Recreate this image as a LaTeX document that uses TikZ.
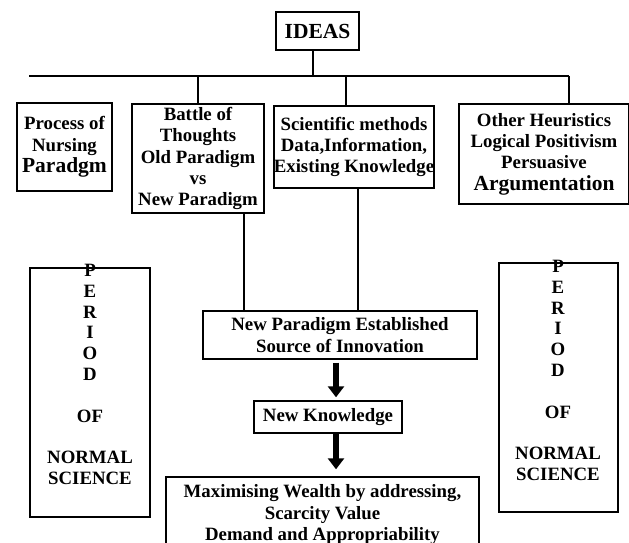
\documentclass[tikz,border=0pt]{standalone}
\usepackage{fontspec}
\setmainfont{Liberation Serif}
\usetikzlibrary{positioning, arrows.meta}

\newcommand{\bigword}[1]{{\fontsize{21.5}{24}\selectfont #1}}

\tikzset{
x=1pt, y=-1pt, % work in page units, y grows downwards
box/.style={draw, line width=1.4pt, align=center, inner sep=0pt,
  font=\fontsize{18.8}{21.3}\selectfont\bfseries}, % every framed box
link/.style={line width=1.3pt}, % plain connectors
fat/.style={line width=6pt, -{Triangle[width=16pt,length=11pt]}}, % the thick down arrows
period/.style={align=center, inner sep=0pt,
  font=\fontsize{18.8}{20.8}\selectfont\bfseries}, % spelled out side text
}

\begin{document}
\begin{tikzpicture}
\useasboundingbox (0,0) rectangle (629,543);

% top of the tree
\node[box, minimum width=83, minimum height=38] (ideas) at (317.5,31) {\bigword{IDEAS}};
\coordinate (busL) at (29,76);
\coordinate (busR) at (569,76);
\coordinate (bIdeas) at (313,76);
\coordinate (bBattle) at (198,76);
\coordinate (bSci) at (346,76);

% the four kinds of ideas
\node[box, minimum width=95, minimum height=88] (process) at (64.5,147)
  {Process of\\Nursing\\\bigword{Paradgm}};
\node[box, minimum width=132, minimum height=109] (battle) at (198,158.5)
  {Battle of\\Thoughts\\Old Paradigm\\vs\\New Paradigm};
\node[box, minimum width=156, minimum height=82] (sci) at (354,147)
  {Scientific methods\\Data,Information,\\Existing Knowledge};
\node[box, minimum width=170, minimum height=100] (other) at (544,154)
  {Other Heuristics\\Logical Positivism\\Persuasive\\\bigword{Argumentation}};

% the main chain
\node[box, minimum width=274, minimum height=48] (newpar) at (340,335)
  {New Paradigm Established\\Source of Innovation};
\node[box, minimum width=148, minimum height=32] (newknow) at (328,417) {New Knowledge};
\node[box, minimum width=313, minimum height=75] (wealth) at (322.5,514.5)
  {Maximising Wealth by addressing,\\Scarcity Value\\Demand and Appropriability};

% side frames
\node[box, minimum width=120, minimum height=249] (lperiod) at (90,392.5) {};
\node[period, anchor=north] (ltext) at (90,264)
  {P\\E\\R\\I\\O\\D\\[20.8pt]OF\\[20.8pt]NORMAL\\SCIENCE};
\node[box, minimum width=119, minimum height=249] (rperiod) at (558.5,387.5) {};
\node[period, anchor=north] (rtext) at (558,260)
  {P\\E\\R\\I\\O\\D\\[20.8pt]OF\\[20.8pt]NORMAL\\SCIENCE};

% connectors
\draw[link] (busL) -- (busR);
\draw[link] (bIdeas |- ideas.south) -- (bIdeas);
\draw[link] (bBattle) -- (bBattle |- battle.north);
\draw[link] (bSci) -- (bSci |- sci.north);
\draw[link] (busR) -- (busR |- other.north);

\coordinate (jBattle) at (244,0);
\coordinate (jSci) at (358,0);
\draw[link] (jBattle |- battle.south) -- (jBattle |- newpar.north);
\draw[link] (jSci |- sci.south) -- (jSci |- newpar.north);

\coordinate (down) at (336,0);
\draw[fat, shorten <=3pt, shorten >=3pt] (down |- newpar.south) -- (down |- newknow.north);
\draw[fat, shorten >=7pt] (down |- newknow.south) -- (down |- wealth.north);
\end{tikzpicture}
\end{document}
